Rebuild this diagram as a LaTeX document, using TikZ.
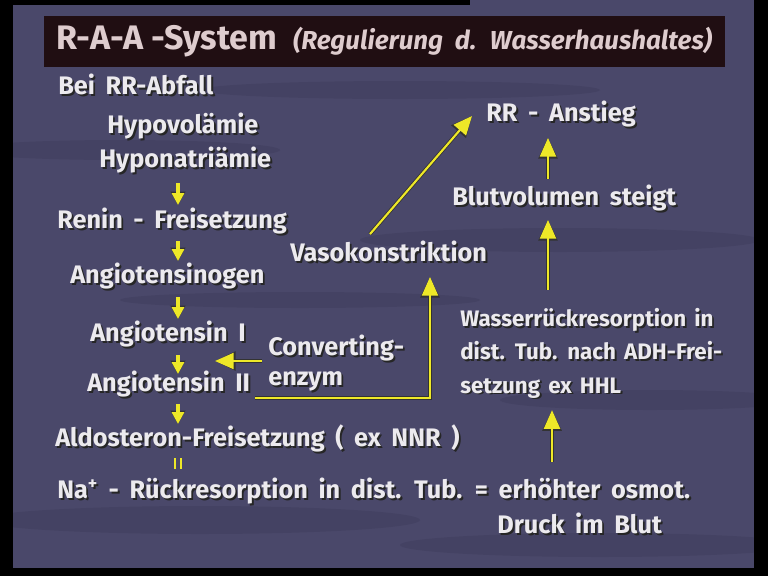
\documentclass[tikz,border=0pt]{standalone}
\usepackage{fontspec}
\setmainfont{Fira Sans}
\newfontfamily\bodyf{Fira Sans}
\usetikzlibrary{arrows.meta,calc}
\definecolor{bgc}{RGB}{74,72,106}
\definecolor{bgd}{RGB}{52,50,80}
\definecolor{titlebg}{RGB}{32,14,18}
\definecolor{titlefg}{RGB}{222,204,206}
\definecolor{txt}{RGB}{236,234,238}
\definecolor{yel}{RGB}{238,232,40}
\newcommand\shd[1]{\makebox[0pt][l]{\kern1.4pt\raisebox{-1.4pt}{\color{black!85}#1}}#1}
\newcommand\bodyfont{\bodyf\bfseries\fontsize{19}{23}\selectfont\spaceskip=0.42em plus 0.1em\relax}
\newcommand\smallbody{\bodyf\bfseries\fontsize{16.8}{25}\selectfont\spaceskip=0.36em plus 0.1em\relax}
\newcommand\subtfont{\fontsize{19.5}{24}\selectfont\itshape\spaceskip=0.45em\relax}
\tikzset{
  lbl/.style={anchor=west, inner sep=0pt, text=txt, text height=13.5pt, text depth=4pt,
              font=\bodyfont},
  lbls/.style={anchor=west, inner sep=0pt, text=txt, align=left,
              font=\smallbody},
  yarr/.style={draw=yel, line width=1.6pt,
     -{Triangle[length=14pt,width=12pt]},
     preaction={draw=black!80, line width=2.8pt, -{Triangle[length=15.5pt,width=14pt]}}},
  sarr/.style={draw=yel, line width=2.4pt,
     -{Triangle[length=9pt,width=9pt]},
     preaction={draw=black!80, line width=3.4pt, -{Triangle[length=10pt,width=10.5pt]}}},
  eqln/.style={draw=yel, line width=1.2pt, preaction={draw=black!80,line width=2pt}},
}
\begin{document}
\begin{tikzpicture}[x=0.75pt,y=-0.75pt]
\useasboundingbox (0,0) rectangle (768,576);
% background
\fill[bgc] (0,0) rectangle (768,576);
\begin{scope}[opacity=0.25]
\fill[bgd] (120,150) ellipse (160 and 10);
\fill[bgd] (560,240) ellipse (200 and 12);
\fill[bgd] (300,300) ellipse (180 and 8);
\fill[bgd] (650,400) ellipse (150 and 10);
\fill[bgd] (200,520) ellipse (220 and 14);
\fill[bgd] (600,545) ellipse (200 and 12);
\fill[bgd] (400,90) ellipse (200 and 9);
\end{scope}
% black borders
\fill[black] (0,0) rectangle (13,576);
\fill[black] (754,0) rectangle (768,576);
\fill[black] (0,568) rectangle (768,576);
\fill[black] (0,0) rectangle (470,5);
% title bar
\node[fill=titlebg, minimum width=510.75pt, minimum height=38.25pt,
      inner xsep=0pt, inner ysep=0pt, text=titlefg,
      font=\bodyf\bfseries] (title) at (384.5,41.5)
  {{\fontsize{25.5}{30}\selectfont R-A-A -System}\hspace{12pt}{\subtfont (Regulierung d. Wasserhaushaltes)}};
% coordinates for vertical arrow columns
\coordinate (ax) at (178,0);
\coordinate (vx) at (430,0);
\coordinate (rx) at (548,0);
\coordinate (dx) at (552,0);
% left column
\node[lbl] (bei) at (58,88) {\shd{Bei RR-Abfall}};
\node[lbl] (hypov) at (107,127) {\shd{Hypovolämie}};
\node[lbl] (hypona) at (99,161) {\shd{Hyponatriämie}};
\node[lbl] (renin) at (57,222) {\shd{Renin - Freisetzung}};
\node[lbl] (angen) at (70,277) {\shd{Angiotensinogen}};
\node[lbl] (ang1) at (90,335) {\shd{Angiotensin I}};
\node[lbl] (ang2) at (87,385) {\shd{Angiotensin II}};
\node[lbl] (aldo) at (55,440) {\shd{Aldosteron-Freisetzung ( ex NNR )}};
\node[lbl] (na) at (57,492) {\shd{Na\textsuperscript{+} - Rückresorption in dist. Tub. = erhöhter osmot.}};
\node[lbl] (druck) at (497,527) {\shd{Druck im Blut}};
\node[lbl, align=left, text height=, text depth=] (conv) at (268,364) {\shd{Converting-}\\\shd{enzym}};
% right part
\node[lbl] (vaso) at (290,255) {\shd{Vasokonstriktion}};
\node[lbl] (rr) at (486,115) {\shd{RR - Anstieg}};
\node[lbl] (blut) at (452,199) {\shd{Blutvolumen steigt}};
\node[lbls] (wasser) at (460,354) {\shd{Wasserrückresorption in}\\\shd{dist. Tub. nach ADH-Frei-}\\\shd{setzung ex HHL}};
% small down arrows
\draw[sarr] ($(hypona.south -| ax)+(0,10)$) -- ($(renin.north -| ax)+(0,-5)$);
\draw[sarr] ($(renin.south -| ax)+(0,7)$) -- ($(angen.north -| ax)+(0,-4)$);
\draw[sarr] ($(angen.south -| ax)+(0,8)$) -- ($(ang1.north -| ax)+(0,-4)$);
\draw[sarr] ($(ang1.south -| ax)+(0,8)$) -- ($(ang2.north -| ax)+(0,1)$);
\draw[sarr] ($(ang2.south -| ax)+(0,7)$) -- ($(aldo.north -| ax)+(0,-4)$);
% equals (parallel lines)
\draw[eqln] ($(aldo.south -| ax)+(-3,6)$) -- ($(na.north -| ax)+(-3,-11)$);
\draw[eqln] ($(aldo.south -| ax)+(3,6)$) -- ($(na.north -| ax)+(3,-11)$);
% converting enzym arrow
\draw[yarr] ($(conv.west)+(-6,-3)$) -- ($(conv.west)+(-53,-3)$);
% angiotensin II -> vasokonstriktion
\draw[yarr] ($(ang2.south east)+(5,1)$) -| ($(vaso.south -| vx)+(0,10)$);
% vasokonstriktion -> RR Anstieg
\draw[yarr] ($(vaso.north west)+(80,-9)$) -- ($(rr.west)+(-14,1)$);
% Blutvolumen -> RR Anstieg
\draw[yarr] ($(blut.north -| rx)+(0,-8)$) -- ($(rr.south -| rx)+(0,11)$);
% Wasser -> Blutvolumen
\draw[yarr] ($(wasser.north -| rx)+(0,-18)$) -- ($(blut.south -| rx)+(0,9)$);
% Na / Druck -> Wasser
\draw[yarr] ($(na.north -| dx)+(0,-18)$) -- ($(wasser.south -| dx)+(0,10)$);
\end{tikzpicture}
\end{document}
